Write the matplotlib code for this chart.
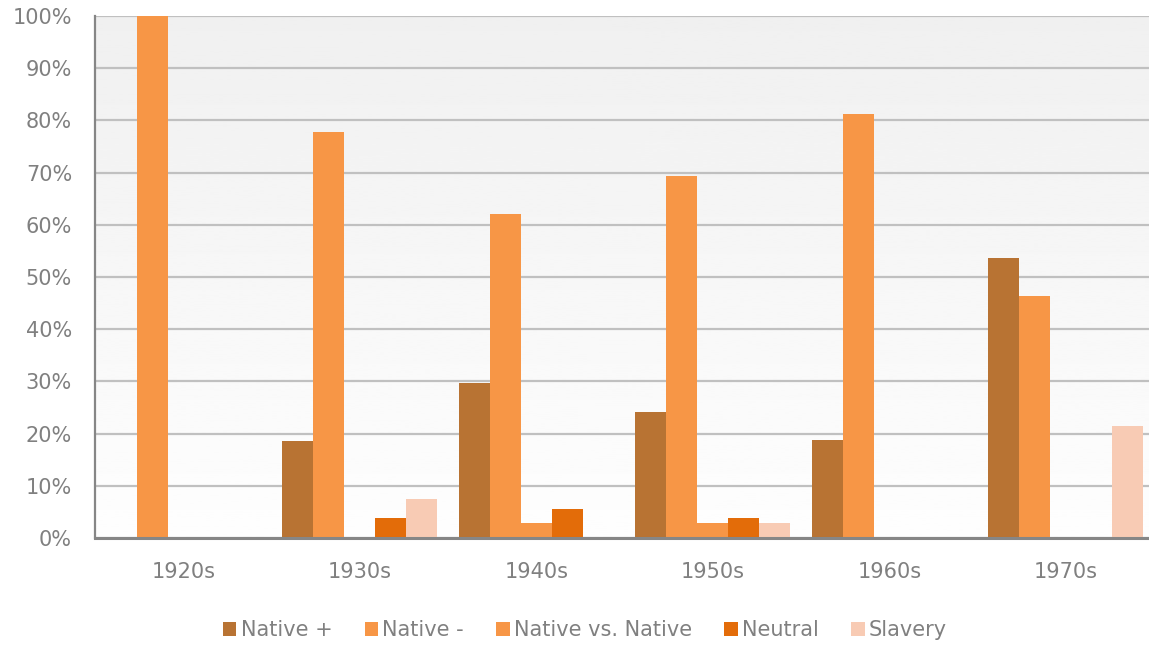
import numpy as np
import matplotlib
matplotlib.use("Agg")
import matplotlib.pyplot as plt
from matplotlib.ticker import PercentFormatter

decades = ["1920s", "1930s", "1940s", "1950s", "1960s", "1970s"]
series_names = ["Native +", "Native -", "Native vs. Native", "Neutral", "Slavery"]
native_pos = [0, 18.5, 29.7, 24.1, 18.8, 53.6]
native_neg = [100, 77.8, 62.1, 69.3, 81.2, 46.4]
native_vs_native = [0, 0, 2.9, 2.9, 0, 0]
neutral = [0, 3.8, 5.6, 3.8, 0, 0]
slavery = [0, 7.4, 0, 2.9, 0, 21.4]
colors = ["#B87333", "#F79646", "#F79646", "#E36C09", "#F8CBB4"]

values = [native_pos, native_neg, native_vs_native, neutral, slavery]

fig = plt.figure(figsize=(11.49, 6.46), dpi=100)
ax = fig.add_axes([95 / 1149, 1 - 538 / 646, 1059 / 1149, (538 - 16) / 646])

# soft vertical gradient behind the bars: light gray on top fading to white
grad = np.linspace(0.995, 0.94, 256).reshape(-1, 1)
ax.imshow(grad, cmap="gray", vmin=0, vmax=1, aspect="auto", origin="lower",
          extent=[-0.5, 5.5, 0, 100], zorder=0)

x = np.arange(len(decades))
width = 0.1756
for i, (name, vals, col) in enumerate(zip(series_names, values, colors)):
    offs = (i - 2) * width
    ax.bar(x + offs, vals, width=width, color=col, label=name, zorder=3, linewidth=0)

ax.set_xlim(-0.5, 5.5)
ax.set_ylim(0, 100)
ax.set_yticks(np.arange(0, 101, 10))
ax.yaxis.set_major_formatter(PercentFormatter(decimals=0))
ax.set_xticks(x)
ax.set_xticklabels(decades)
ax.grid(axis="y", color="#C0C0C0", linewidth=1.6, zorder=1)
ax.set_axisbelow(True)

for side in ["top", "right"]:
    ax.spines[side].set_visible(False)
ax.spines["left"].set_color("#868686")
ax.spines["left"].set_linewidth(1.6)
ax.spines["bottom"].set_color("#868686")
ax.spines["bottom"].set_linewidth(2.2)
ax.spines["bottom"].set_zorder(4)

ax.tick_params(axis="both", length=0, labelsize=15, labelcolor="#808080")
ax.tick_params(axis="y", pad=16.5)
ax.tick_params(axis="x", pad=17)

fig.legend(loc="center", bbox_to_anchor=(585 / 1149, 1 - 630 / 646), ncol=5,
           frameon=False, fontsize=15, labelcolor="#808080",
           handlelength=0.65, handleheight=0.65, handletextpad=0.2,
           columnspacing=1.55)

fig.savefig("out.png", dpi=100)
